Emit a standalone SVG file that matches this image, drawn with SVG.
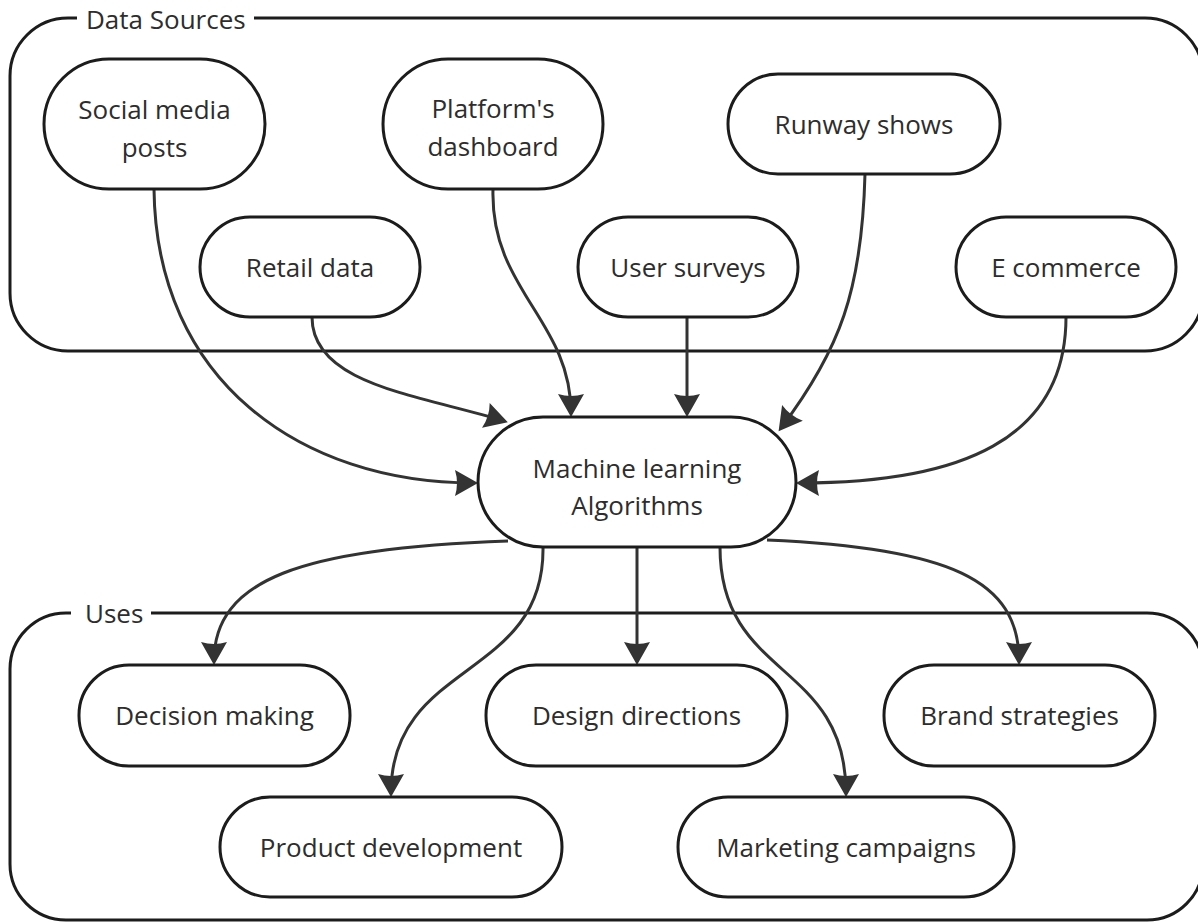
<svg xmlns="http://www.w3.org/2000/svg" width="1198" height="922" viewBox="0 0 1198 922">
  <style>
    .bg { fill: #ffffff; }
    .container { fill: none; stroke: #1c1c1c; stroke-width: 3; }
    .node rect { fill: #ffffff; stroke: #1c1c1c; stroke-width: 3; }
    text { font-family: "Open Sans", "Noto Sans", "Liberation Sans", sans-serif; font-size: 26px; fill: #2d2d2d; }
    .node text { text-anchor: middle; }
    .edge { fill: none; stroke: #333333; stroke-width: 3; }
    .labelbg { fill: #ffffff; }
  </style>
  <defs>
    <marker id="arrow" viewBox="-24 -15 30 30" refX="0" refY="0" markerWidth="30" markerHeight="30" markerUnits="userSpaceOnUse" orient="auto">
      <path d="M4,0 L-19,-13 Q-15,0 -19,13 Z" fill="#333333"/>
    </marker>
  </defs>
  <rect class="bg" x="0" y="0" width="1198" height="922"/>

  <g id="group-data-sources">
    <rect class="container" x="10" y="18" width="1193" height="333" rx="58" ry="58"/>
    <rect class="labelbg" x="77" y="6" width="177" height="24"/>
    <text x="86" y="29">Data Sources</text>
  </g>
  <g id="group-uses">
    <rect class="container" x="10" y="613" width="1193" height="307" rx="56" ry="56"/>
    <rect class="labelbg" x="71" y="601" width="80" height="24"/>
    <text x="85" y="623">Uses</text>
  </g>

  <g id="connectors">
    <path class="edge" marker-end="url(#arrow)" d="M154,189 C156,380 300,483 474,483"/>
    <path class="edge" marker-end="url(#arrow)" d="M312,317 C312,385 420,395 504,421"/>
    <path class="edge" marker-end="url(#arrow)" d="M493,189 C490,290 571,320 571,413"/>
    <path class="edge" marker-end="url(#arrow)" d="M687,317 L687,413"/>
    <path class="edge" marker-end="url(#arrow)" d="M865,174 C862,290 840,350 781,428"/>
    <path class="edge" marker-end="url(#arrow)" d="M1066,317 C1066,440 960,483 800,483"/>
    <path class="edge" marker-end="url(#arrow)" d="M508,541 C300,548 214,580 214,661"/>
    <path class="edge" marker-end="url(#arrow)" d="M543,547 C545,680 391,660 391,793"/>
    <path class="edge" marker-end="url(#arrow)" d="M637,547 L637,661"/>
    <path class="edge" marker-end="url(#arrow)" d="M720,547 C720,680 846,660 846,793"/>
    <path class="edge" marker-end="url(#arrow)" d="M767,540 C950,548 1019,580 1019,661"/>
  </g>

  <g id="node-social-media-posts" class="node">
    <rect x="44" y="59" width="221" height="130" rx="65" ry="65"/>
    <text x="154.5" y="119">Social media</text>
    <text x="154.5" y="157">posts</text>
  </g>
  <g id="node-platforms-dashboard" class="node">
    <rect x="383" y="59" width="220" height="130" rx="65" ry="65"/>
    <text x="493" y="118">Platform's</text>
    <text x="493" y="156">dashboard</text>
  </g>
  <g id="node-runway-shows" class="node">
    <rect x="728" y="74" width="272" height="100" rx="50" ry="50"/>
    <text x="864" y="134">Runway shows</text>
  </g>
  <g id="node-retail-data" class="node">
    <rect x="200" y="217" width="220" height="100" rx="50" ry="50"/>
    <text x="310" y="277">Retail data</text>
  </g>
  <g id="node-user-surveys" class="node">
    <rect x="578" y="217" width="220" height="100" rx="50" ry="50"/>
    <text x="688" y="277">User surveys</text>
  </g>
  <g id="node-e-commerce" class="node">
    <rect x="956" y="217" width="220" height="100" rx="50" ry="50"/>
    <text x="1066" y="277">E commerce</text>
  </g>
  <g id="node-ml-algorithms" class="node">
    <rect x="478" y="417" width="318" height="130" rx="65" ry="65"/>
    <text x="637" y="478">Machine learning</text>
    <text x="637" y="515">Algorithms</text>
  </g>
  <g id="node-decision-making" class="node">
    <rect x="79" y="665" width="271" height="101" rx="50" ry="50"/>
    <text x="214.5" y="725">Decision making</text>
  </g>
  <g id="node-design-directions" class="node">
    <rect x="486" y="665" width="301" height="101" rx="50" ry="50"/>
    <text x="636.5" y="725">Design directions</text>
  </g>
  <g id="node-brand-strategies" class="node">
    <rect x="884" y="665" width="271" height="101" rx="50" ry="50"/>
    <text x="1019.5" y="725">Brand strategies</text>
  </g>
  <g id="node-product-development" class="node">
    <rect x="220" y="797" width="342" height="100" rx="50" ry="50"/>
    <text x="391" y="857">Product development</text>
  </g>
  <g id="node-marketing-campaigns" class="node">
    <rect x="678" y="797" width="336" height="100" rx="50" ry="50"/>
    <text x="846" y="857">Marketing campaigns</text>
  </g>
</svg>
